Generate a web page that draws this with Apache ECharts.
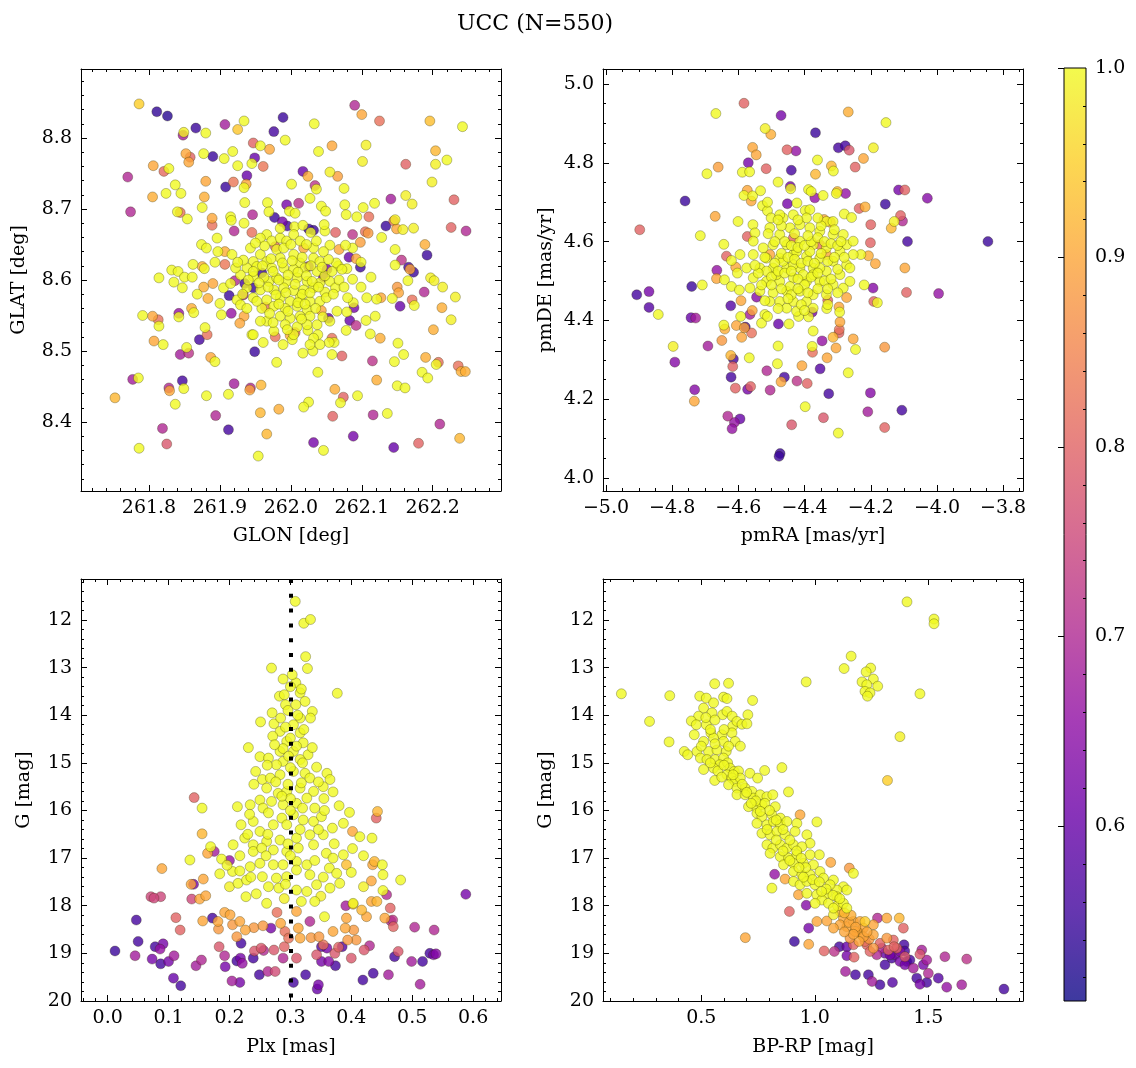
<!DOCTYPE html>
<html><head><meta charset="utf-8">
<script src="https://cdn.jsdelivr.net/npm/echarts@6/dist/echarts.min.js"></script>
<style>html,body{margin:0;padding:0;background:#fff}#c{width:1136px;height:1068px}</style>
</head><body><div id="c"></div>
<script>
const FONT = 'DejaVu Serif';
const titleText = 'UCC (N=550)';
// major tick label values
const glonTicks = [261.8, 261.9, 262.0, 262.1, 262.2];
const glatTicks = [8.4, 8.5, 8.6, 8.7, 8.8];
const pmraTicks = [-5.0, -4.8, -4.6, -4.4, -4.2, -4.0, -3.8];
const pmdeTicks = [4.0, 4.2, 4.4, 4.6, 4.8, 5.0];
const plxTicks = [0.0, 0.1, 0.2, 0.3, 0.4, 0.5, 0.6];
const gTicks = [12, 13, 14, 15, 16, 17, 18, 19, 20];
const bprpTicks = [0.5, 1.0, 1.5];
const probTicks = [0.6, 0.7, 0.8, 0.9, 1.0];
const plxMedian = 0.301;
const probMin = 0.5077, probMax = 1.0;

// [GLON, GLAT, prob]
const posData = [[261.786,8.848,.95],[261.811,8.837,.54],[261.826,8.831,.53],[262.090,8.846,.70],[262.100,8.833,.90],[262.125,8.824,.82],[262.196,8.824,.93],[262.242,8.816,1],[261.989,8.829,.55],[262.033,8.820,1],[261.934,8.824,1],[261.907,8.819,.68],[261.866,8.814,.55],[261.880,8.807,1],[261.925,8.812,.94],[261.848,8.804,.68],[261.849,8.808,.99],[261.976,8.809,.56],[261.992,8.797,1],[261.947,8.793,.80],[261.957,8.789,1],[261.970,8.784,.90],[261.918,8.781,1],[261.890,8.774,.55],[261.877,8.778,1],[261.852,8.778,.90],[261.858,8.773,.80],[261.856,8.766,.90],[261.906,8.771,1],[261.949,8.772,.60],[261.945,8.764,1],[261.925,8.761,1],[261.961,8.760,.83],[262.039,8.781,1],[262.058,8.789,.90],[262.106,8.790,.99],[262.101,8.767,.99],[262.162,8.763,.80],[262.204,8.782,.92],[262.220,8.769,1],[262.204,8.763,.99],[262.199,8.738,.99],[261.806,8.761,.90],[261.821,8.753,.81],[261.828,8.757,1],[261.770,8.745,.70],[262.017,8.753,.60],[262.024,8.746,.91],[262.055,8.752,.99],[262.066,8.746,.89],[261.938,8.747,.60],[261.919,8.738,.83],[261.908,8.731,.55],[261.937,8.735,.90],[261.934,8.730,1],[261.880,8.739,.90],[261.837,8.734,1],[261.845,8.722,1],[261.824,8.722,1],[261.805,8.717,.91],[261.878,8.717,.91],[261.875,8.702,1],[262.001,8.735,1],[262.034,8.733,.72],[262.036,8.728,1],[262.075,8.729,1],[262.027,8.715,1],[261.967,8.709,1],[261.935,8.709,1],[261.994,8.706,.62],[262.011,8.708,.72],[262.141,8.714,.68],[262.162,8.719,.99],[262.171,8.707,.99],[262.118,8.708,1],[262.102,8.702,1],[262.076,8.706,1],[262.043,8.704,1],[262.230,8.713,.80],[261.774,8.696,.70],[261.844,8.695,.82],[261.840,8.696,1],[261.854,8.686,1],[261.889,8.687,.90],[261.889,8.677,.82],[261.915,8.689,1],[261.916,8.684,1],[261.946,8.692,.70],[261.934,8.680,1],[261.969,8.696,1],[261.977,8.688,.55],[261.998,8.697,1],[262.006,8.694,1],[262.049,8.697,1],[262.078,8.692,1],[262.093,8.689,1],[262.110,8.689,.82],[262.147,8.685,.99],[262.134,8.676,.55],[262.145,8.683,.82],[262.149,8.672,.90],[262.158,8.671,.99],[262.173,8.673,.99],[262.226,8.674,.80],[262.247,8.669,.70],[261.988,8.682,.62],[261.995,8.676,.56],[262.005,8.675,1],[262.017,8.677,1],[262.032,8.670,.55],[262.028,8.667,1],[262.048,8.669,1],[262.047,8.678,1],[262.063,8.667,.80],[262.087,8.664,.72],[262.105,8.668,.82],[262.109,8.666,.88],[262.128,8.660,1],[262.098,8.653,.89],[262.087,8.645,1],[262.077,8.649,1],[262.068,8.643,.90],[262.055,8.649,1],[261.920,8.669,.70],[261.945,8.667,.82],[261.896,8.659,1],[261.874,8.650,1],[261.881,8.645,1],[262.189,8.650,.91],[262.192,8.635,.55],[262.147,8.643,1],[262.156,8.628,.72],[262.166,8.618,.56],[262.168,8.615,.90],[262.173,8.611,.55],[262.147,8.621,1],[262.082,8.632,.60],[262.092,8.630,.90],[262.098,8.618,.55],[262.099,8.625,1],[262.079,8.616,1],[262.067,8.620,1],[262.051,8.615,.62],[262.064,8.624,1],[262.087,8.601,1],[262.113,8.604,1],[262.099,8.590,1],[262.165,8.599,1],[262.197,8.603,.99],[262.202,8.599,.99],[262.214,8.590,.99],[262.188,8.583,.70],[262.150,8.590,.88],[262.152,8.582,.90],[262.143,8.574,1],[262.127,8.575,.90],[262.121,8.573,1],[262.107,8.575,1],[262.171,8.572,.82],[262.174,8.564,1],[262.154,8.563,.60],[262.232,8.576,.99],[262.213,8.561,.91],[262.226,8.544,.99],[262.201,8.530,.91],[261.814,8.603,1],[261.832,8.614,1],[261.841,8.612,1],[261.850,8.604,1],[261.861,8.604,1],[261.862,8.622,1],[261.875,8.619,.91],[261.878,8.616,1],[261.897,8.640,1],[261.907,8.640,.91],[261.893,8.625,1],[261.907,8.622,.83],[261.835,8.597,1],[261.847,8.589,1],[261.868,8.580,1],[261.877,8.590,.91],[261.883,8.574,.91],[261.890,8.595,.90],[261.905,8.589,1],[261.900,8.567,1],[261.913,8.578,.55],[261.921,8.599,.70],[261.933,8.579,.70],[261.935,8.595,.56],[261.924,8.572,1],[261.916,8.553,.66],[261.934,8.549,.90],[261.928,8.539,.90],[261.902,8.551,1],[261.791,8.550,1],[261.805,8.549,.90],[261.813,8.544,.82],[261.814,8.535,1],[261.842,8.553,.66],[261.842,8.548,1],[261.860,8.560,.91],[261.863,8.554,1],[261.879,8.533,1],[261.882,8.523,.82],[261.871,8.516,.56],[261.807,8.514,.90],[261.820,8.509,1],[261.844,8.495,.68],[261.856,8.497,.72],[261.853,8.505,1],[261.887,8.491,.90],[261.893,8.485,1],[261.777,8.460,.68],[261.785,8.462,1],[261.828,8.448,.70],[261.829,8.444,.90],[261.847,8.458,.56],[261.849,8.447,1],[261.920,8.454,.68],[261.943,8.448,.70],[261.942,8.445,.90],[261.958,8.452,.92],[261.881,8.437,1],[261.912,8.439,1],[261.837,8.425,1],[261.752,8.434,.92],[261.819,8.391,.70],[261.825,8.369,.78],[261.786,8.363,1],[261.894,8.409,.70],[261.912,8.389,.56],[261.957,8.413,.92],[261.966,8.383,.92],[261.954,8.352,1],[261.980,8.484,1],[261.949,8.499,.55],[261.945,8.523,1],[261.961,8.512,1],[261.978,8.520,.82],[261.989,8.509,1],[261.999,8.522,.91],[262.006,8.526,.82],[262.002,8.516,1],[262.017,8.497,1],[262.031,8.500,1],[262.038,8.470,1],[262.038,8.523,1],[262.024,8.529,1],[262.053,8.546,.60],[262.055,8.542,1],[262.058,8.518,.82],[262.061,8.512,1],[262.054,8.512,1],[262.065,8.556,1],[262.083,8.543,.60],[262.078,8.529,1],[262.092,8.536,.72],[262.079,8.555,1],[262.089,8.561,.62],[262.088,8.568,1],[262.106,8.543,1],[262.112,8.524,1],[262.119,8.549,1],[262.126,8.518,.91],[262.151,8.511,1],[262.159,8.495,1],[262.146,8.485,1],[262.115,8.486,.72],[262.121,8.459,.91],[262.190,8.491,.91],[262.208,8.484,.82],[262.205,8.481,1],[262.185,8.470,1],[262.193,8.462,1],[262.236,8.479,.82],[262.240,8.471,.91],[262.246,8.471,.91],[262.058,8.495,1],[262.072,8.493,.80],[262.062,8.446,.91],[262.074,8.435,.80],[262.070,8.427,1],[262.094,8.437,1],[262.150,8.451,1],[262.161,8.448,1],[262.025,8.428,1],[262.018,8.421,1],[261.983,8.418,.91],[262.059,8.408,.80],[262.116,8.410,.70],[262.136,8.412,1],[262.032,8.371,.62],[262.046,8.360,1],[262.088,8.380,.62],[262.145,8.364,.60],[262.180,8.370,.80],[262.210,8.397,.70],[262.238,8.377,.92],
[261.966,8.664,1],[261.973,8.655,1],[261.985,8.659,1],[261.994,8.655,1],[261.980,8.643,1],[261.957,8.636,1],[261.947,8.626,1],[261.966,8.626,1],[261.985,8.631,1],[262.004,8.636,1],[262.013,8.624,1],[262.032,8.631,1],[262.041,8.626,1],[262.053,8.629,1],[261.938,8.617,1],[261.952,8.619,1],[261.973,8.617,1],[261.990,8.617,1],[262.004,8.615,1],[262.020,8.617,1],[262.037,8.612,1],[261.929,8.607,1],[261.947,8.605,1],[261.969,8.598,1],[261.980,8.603,1],[261.994,8.598,1],[262.009,8.603,1],[262.023,8.598,1],[262.041,8.596,1],[262.055,8.598,1],[261.938,8.589,1],[261.957,8.586,1],[261.976,8.586,1],[261.990,8.589,1],[262.004,8.585,1],[262.018,8.586,1],[262.032,8.589,1],[262.048,8.583,1],[262.063,8.589,1],[261.947,8.575,1],[261.966,8.572,1],[261.985,8.575,1],[261.999,8.570,1],[262.013,8.575,1],[262.027,8.570,1],[262.041,8.570,1],[261.959,8.560,1],[261.976,8.563,1],[261.992,8.560,1],[262.009,8.563,1],[262.023,8.558,1],[261.985,8.549,1],[261.999,8.546,1],[262.013,8.549,1],[262.027,8.549,1],[261.992,8.537,1],[262.009,8.534,1],[262.023,8.537,1],[261.966,8.542,1],[262.037,8.537,1],[261.976,8.528,1],[262.004,8.523,1],[262.032,8.518,1],[261.922,8.617,1],[261.933,8.628,1],[261.917,8.636,1],[261.943,8.645,1],[261.957,8.659,1],[261.985,8.673,1],[262.004,8.664,1],[262.013,8.655,1],[262.032,8.645,1],[262.046,8.640,1],[261.929,8.565,1],[261.938,8.560,1],[261.957,8.542,1],[261.947,8.523,1],[262.027,8.509,1],[262.041,8.509,1],
[261.975,8.612,1],[261.983,8.600,1],[261.996,8.607,1],[262.010,8.611,1],[262.022,8.606,1],[262.030,8.598,1],[261.968,8.590,1],[261.979,8.579,1],[261.993,8.582,1],[262.006,8.594,1],[262.016,8.580,1],[262.027,8.582,1],[262.039,8.590,1],[262.048,8.606,1],[261.962,8.604,1],[261.955,8.596,1],[261.947,8.612,1],[261.960,8.620,1],[261.972,8.630,1],[261.988,8.624,1],[262.002,8.627,1],[262.016,8.632,1],[262.028,8.620,1],[262.044,8.618,1],[262.058,8.612,1],[261.983,8.566,1],[261.996,8.556,1],[262.010,8.568,1],[262.020,8.566,1],[262.035,8.560,1],[261.970,8.553,1],[261.952,8.570,1],[261.940,8.600,1],[261.932,8.580,1],[262.050,8.575,1],[262.060,8.580,1],[262.068,8.600,1],[262.072,8.615,1],[261.990,8.645,1],[262.000,8.650,1],[262.022,8.650,1],[262.036,8.655,1],[261.963,8.648,1],[261.950,8.652,1],[261.995,8.530,1],[262.015,8.545,1],[261.975,8.540,1],[262.045,8.548,1],[261.925,8.625,1],[261.915,8.595,1],[262.080,8.575,1],[262.075,8.590,1],
[261.959,8.610,.55],[261.947,8.589,.55],[261.964,8.562,.82],[262.025,8.619,.62],[262.046,8.604,.62],[262.043,8.557,.90],[262.025,8.672,.55],[261.978,8.647,.82],[262.018,8.645,.90]];

// [pmRA, pmDE, prob]
const pmData = [[-4.583,4.951,.80],[-4.668,4.925,1],[-4.471,4.920,.62],[-4.268,4.929,.91],[-4.154,4.902,1],[-4.367,4.876,.55],[-4.519,4.887,.99],[-4.502,4.872,.91],[-4.557,4.839,.90],[-4.546,4.820,.90],[-4.453,4.833,.80],[-4.426,4.830,.66],[-4.298,4.838,.56],[-4.277,4.843,.56],[-4.265,4.832,.78],[-4.192,4.838,.99],[-4.222,4.811,.90],[-4.361,4.807,1],[-4.570,4.800,.62],[-4.661,4.789,.89],[-4.516,4.785,.80],[-4.440,4.781,.56],[-4.319,4.792,.92],[-4.313,4.779,1],[-4.247,4.789,.80],[-4.695,4.772,1],[-4.588,4.776,1],[-4.566,4.777,1],[-4.480,4.751,1],[-4.367,4.771,.92],[-4.443,4.740,.62],[-4.442,4.734,1],[-4.344,4.717,1],[-4.301,4.727,.92],[-4.304,4.722,1],[-4.276,4.722,.66],[-4.388,4.732,1],[-4.380,4.727,1],[-4.573,4.730,.90],[-4.583,4.717,1],[-4.557,4.716,1],[-4.561,4.703,.90],[-4.533,4.729,1],[-4.369,4.711,.66],[-4.761,4.703,.55],[-4.156,4.695,.55],[-4.116,4.731,.62],[-4.097,4.731,.80],[-4.029,4.710,.64],[-4.235,4.684,.80],[-4.217,4.688,.91],[-4.670,4.664,.90],[-4.601,4.651,1],[-4.452,4.696,.62],[-4.527,4.691,1],[-4.512,4.678,1],[-4.501,4.660,1],[-4.512,4.700,1],[-4.423,4.698,1],[-4.434,4.668,1],[-4.398,4.679,1],[-4.384,4.681,1],[-4.280,4.670,1],[-4.258,4.661,1],[-4.341,4.656,.90],[-4.322,4.649,.90],[-4.110,4.666,.80],[-4.104,4.652,.70],[-4.129,4.651,.99],[-4.138,4.634,.92],[-4.898,4.630,.80],[-4.715,4.615,1],[-4.573,4.613,.80],[-4.556,4.643,1],[-4.550,4.622,1],[-4.089,4.600,.56],[-3.846,4.600,.55],[-4.644,4.593,1],[-4.200,4.643,.80],[-4.201,4.597,.80],[-4.230,4.567,1],[-4.207,4.564,.91],[-4.186,4.544,.90],[-4.097,4.533,.90],[-4.092,4.471,.80],[-3.995,4.468,.66],[-4.193,4.482,.64],[-4.191,4.448,.80],[-4.180,4.445,1],[-4.220,4.490,1],[-4.636,4.563,.80],[-4.621,4.552,1],[-4.608,4.535,.90],[-4.603,4.520,1],[-4.665,4.527,.66],[-4.666,4.506,.90],[-4.642,4.503,1],[-4.621,4.486,1],[-4.597,4.477,1],[-4.709,4.490,1],[-4.741,4.486,.55],[-4.907,4.465,.56],[-4.870,4.473,.62],[-4.870,4.433,.58],[-4.842,4.415,1],[-4.623,4.437,.58],[-4.592,4.450,.90],[-4.565,4.415,.68],[-4.593,4.410,1],[-4.545,4.459,.64],[-4.558,4.425,.90],[-4.520,4.415,1],[-4.530,4.393,1],[-4.512,4.410,1],[-4.743,4.407,.60],[-4.729,4.406,.68],[-4.644,4.388,1],[-4.641,4.378,.91],[-4.606,4.387,.90],[-4.582,4.381,.90],[-4.579,4.383,.56],[-4.560,4.368,.82],[-4.590,4.357,.90],[-4.650,4.349,.88],[-4.479,4.391,.60],[-4.447,4.391,1],[-4.418,4.410,1],[-4.388,4.409,1],[-4.374,4.373,1],[-4.377,4.421,.62],[-4.330,4.451,.80],[-4.333,4.430,1],[-4.296,4.434,.90],[-4.294,4.421,1],[-4.293,4.396,.90],[-4.295,4.377,.82],[-4.296,4.368,.80],[-4.273,4.458,.90],[-4.314,4.357,.92],[-4.253,4.353,.90],[-4.347,4.348,.66],[-4.377,4.334,1],[-4.376,4.319,.82],[-4.305,4.330,.90],[-4.332,4.305,.90],[-4.246,4.326,1],[-4.158,4.332,.88],[-4.480,4.335,1],[-4.797,4.334,.99],[-4.692,4.335,.68],[-4.792,4.294,.64],[-4.623,4.311,.92],[-4.615,4.302,.56],[-4.567,4.305,1],[-4.617,4.283,.80],[-4.622,4.256,.56],[-4.482,4.290,1],[-4.408,4.285,.90],[-4.353,4.277,.58],[-4.268,4.267,1],[-4.514,4.272,.70],[-4.461,4.256,.56],[-4.471,4.244,.90],[-4.423,4.246,.72],[-4.392,4.240,.80],[-4.609,4.228,.80],[-4.572,4.225,.62],[-4.563,4.232,.80],[-4.504,4.223,.70],[-4.327,4.214,.56],[-4.201,4.216,.64],[-4.732,4.224,.64],[-4.733,4.195,.90],[-4.398,4.181,1],[-4.632,4.157,.70],[-4.595,4.150,.60],[-4.612,4.141,.66],[-4.619,4.125,.66],[-4.343,4.153,.78],[-4.209,4.168,.68],[-4.106,4.172,.56],[-4.439,4.135,.78],[-4.298,4.114,1],[-4.158,4.128,.80],[-4.474,4.062,.55],[-4.477,4.055,.55],
[-4.475,4.618,1],[-4.444,4.635,1],[-4.414,4.643,1],[-4.384,4.635,1],[-4.354,4.626,1],[-4.314,4.618,1],[-4.283,4.618,1],[-4.273,4.592,1],[-4.293,4.575,1],[-4.334,4.584,1],[-4.374,4.592,1],[-4.414,4.601,1],[-4.454,4.592,1],[-4.495,4.592,1],[-4.525,4.584,1],[-4.555,4.567,1],[-4.515,4.558,1],[-4.475,4.558,1],[-4.434,4.567,1],[-4.394,4.563,1],[-4.354,4.558,1],[-4.314,4.550,1],[-4.273,4.541,1],[-4.535,4.533,1],[-4.495,4.533,1],[-4.454,4.533,1],[-4.414,4.533,1],[-4.374,4.533,1],[-4.334,4.525,1],[-4.293,4.516,1],[-4.555,4.508,1],[-4.515,4.499,1],[-4.475,4.499,1],[-4.434,4.508,1],[-4.394,4.499,1],[-4.354,4.499,1],[-4.314,4.491,1],[-4.535,4.474,1],[-4.495,4.470,1],[-4.454,4.474,1],[-4.414,4.474,1],[-4.374,4.465,1],[-4.334,4.465,1],[-4.475,4.448,1],[-4.434,4.448,1],[-4.394,4.448,1],[-4.454,4.431,1],[-4.424,4.423,1],[-4.505,4.448,1],[-4.565,4.482,1],[-4.283,4.482,1],[-4.263,4.499,1],[-4.253,4.567,1],[-4.334,4.651,1],[-4.465,4.660,1],[-4.505,4.635,1],[-4.555,4.601,1],[-4.595,4.567,1],[-4.575,4.533,1],[-4.374,4.431,1],[-4.475,4.668,1],[-4.394,4.660,1],[-4.314,4.651,1],[-4.253,4.601,1],[-4.263,4.533,1],[-4.424,4.575,1],[-4.384,4.575,1],[-4.465,4.550,1],[-4.444,4.486,1],[-4.485,4.516,1],[-4.374,4.516,1],[-4.404,4.516,1],[-4.434,4.541,1],[-4.515,4.525,1],[-4.354,4.533,1],
[-4.460,4.600,1],[-4.440,4.590,1],[-4.420,4.585,1],[-4.400,4.590,1],[-4.380,4.600,1],[-4.360,4.610,1],[-4.340,4.600,1],[-4.320,4.595,1],[-4.300,4.590,1],[-4.470,4.570,1],[-4.450,4.560,1],[-4.430,4.555,1],[-4.410,4.545,1],[-4.390,4.550,1],[-4.370,4.545,1],[-4.350,4.570,1],[-4.330,4.550,1],[-4.310,4.560,1],[-4.490,4.545,1],[-4.500,4.510,1],[-4.480,4.525,1],[-4.460,4.520,1],[-4.440,4.525,1],[-4.420,4.505,1],[-4.400,4.490,1],[-4.380,4.510,1],[-4.360,4.520,1],[-4.340,4.500,1],[-4.320,4.505,1],[-4.300,4.530,1],[-4.520,4.560,1],[-4.540,4.520,1],[-4.500,4.490,1],[-4.470,4.480,1],[-4.440,4.465,1],[-4.420,4.480,1],[-4.390,4.470,1],[-4.360,4.480,1],[-4.330,4.480,1],[-4.490,4.600,1],[-4.510,4.620,1],[-4.470,4.640,1],[-4.430,4.620,1],[-4.390,4.615,1],[-4.350,4.640,1],[-4.310,4.630,1],[-4.290,4.600,1],[-4.280,4.560,1],[-4.300,4.470,1],[-4.450,4.455,1],[-4.410,4.440,1],[-4.530,4.490,1],[-4.550,4.540,1],[-4.420,4.655,1],[-4.360,4.660,1],[-4.480,4.655,1],[-4.330,4.440,1],[-4.400,4.425,1],[-4.480,4.430,1],[-4.520,4.450,1],
[-4.434,4.609,.80],[-4.334,4.567,.90],[-4.505,4.567,.90],[-4.354,4.592,.82]];

// [Plx, G, prob]
const plxData = [[0.308,11.61,1],[0.322,12.07,1],[0.333,11.99,1],[0.325,12.77,1],[0.328,13.02,1],[0.269,13.01,1],[0.377,13.54,1],[0.288,13.24,1],[0.309,13.32,1],[0.303,13.15,1],[0.282,13.60,1],[0.290,13.57,1],[0.316,13.53,1],[0.324,13.71,1],[0.309,13.78,1],[0.292,13.78,1],[0.336,13.92,1],[0.333,14.06,1],[0.270,13.95,1],[0.251,14.14,1],[0.273,14.18,1],[0.284,14.06,1],[0.316,14.06,1],[0.305,14.20,1],[0.283,14.34,1],[0.271,14.44,1],[0.316,14.37,1],[0.321,14.58,1],[0.294,14.55,1],[0.231,14.68,1],[0.250,14.87,1],[0.264,14.90,1],[0.283,14.76,1],[0.305,14.76,1],[0.329,14.83,1],[0.316,14.93,1],[0.288,14.97,1],[0.277,15.04,1],[0.343,15.09,1],[0.360,15.22,1],[0.365,15.35,1],[0.354,15.50,1],[0.370,15.61,1],[0.243,15.18,1],[0.254,15.35,1],[0.267,15.32,1],[0.283,15.25,1],[0.305,15.18,1],[0.324,15.22,1],[0.332,15.32,1],[0.261,15.53,1],[0.280,15.64,1],[0.294,15.60,1],[0.316,15.53,1],[0.338,15.60,1],[0.250,15.78,1],[0.234,15.88,1],[0.255,15.95,1],[0.269,15.81,1],[0.288,15.88,1],[0.310,15.85,1],[0.327,15.74,1],[0.340,15.95,1],[0.213,15.92,1],[0.239,16.23,1],[0.219,16.30,1],[0.250,16.44,1],[0.272,16.30,1],[0.286,16.16,1],[0.305,16.09,1],[0.321,16.20,1],[0.338,16.23,1],[0.351,16.13,1],[0.397,16.04,1],[0.369,16.37,1],[0.387,16.27,1],[0.414,16.55,1],[0.434,16.58,1],[0.225,16.58,1],[0.206,16.72,1],[0.239,16.72,1],[0.261,16.65,1],[0.283,16.62,1],[0.310,16.58,1],[0.332,16.51,1],[0.354,16.51,1],[0.217,16.95,1],[0.239,16.86,1],[0.253,16.79,1],[0.272,16.83,1],[0.294,16.86,1],[0.313,16.79,1],[0.338,16.72,1],[0.359,16.90,1],[0.387,16.93,1],[0.370,17.00,1],[0.187,17.02,1],[0.205,17.28,1],[0.217,17.27,1],[0.234,17.18,1],[0.250,17.11,1],[0.272,17.14,1],[0.288,17.14,1],[0.310,17.07,1],[0.327,17.14,1],[0.364,17.21,1],[0.376,17.32,1],[0.392,17.14,.93],[0.438,17.07,.92],[0.451,17.14,1],[0.452,17.35,1],[0.481,17.46,1],[0.184,17.33,1],[0.214,17.53,1],[0.228,17.46,1],[0.254,17.39,1],[0.277,17.42,1],[0.294,17.39,1],[0.332,17.35,1],[0.343,17.56,1],[0.365,17.63,1],[0.381,17.53,1],[0.264,17.60,1],[0.281,17.63,1],[0.310,17.67,1],[0.327,17.70,1],[0.135,17.04,1],[0.155,15.95,1],[0.169,16.76,1],[0.227,17.81,1],[0.261,17.95,1],[0.318,17.91,1],[0.340,17.91,1],[0.452,17.68,1],[0.356,18.23,1],[0.403,17.95,1],[0.417,18.09,.92],
[0.300,13.40,1],[0.318,13.45,1],[0.296,13.90,1],[0.312,14.00,1],[0.322,14.30,1],[0.292,14.25,1],[0.300,14.48,1],[0.310,14.65,1],[0.288,14.70,1],[0.274,14.62,1],[0.336,14.68,1],[0.297,14.86,1],[0.320,15.00,1],[0.300,15.10,1],[0.262,15.05,1],[0.346,15.40,1],[0.318,15.42,1],[0.296,15.45,1],[0.276,15.40,1],[0.240,15.45,1],[0.355,15.75,1],[0.300,15.75,1],[0.286,15.70,1],[0.320,15.95,1],[0.300,16.00,1],[0.264,16.05,1],[0.233,16.08,1],[0.356,16.00,1],[0.380,15.90,1],[0.294,16.30,1],[0.316,16.40,1],[0.263,16.50,1],[0.346,16.40,1],[0.372,16.70,1],[0.402,16.80,1],[0.296,16.70,1],[0.230,16.50,1],[0.260,16.95,1],[0.300,16.95,1],[0.340,17.05,1],[0.196,17.15,1],[0.420,16.95,1],[0.400,17.30,1],[0.235,17.40,1],[0.310,17.25,1],[0.354,17.40,1],[0.292,17.55,1],[0.244,17.75,1],[0.350,17.80,.99],[0.420,17.60,.99],[0.200,17.60,.99],[0.290,17.85,.99],
[0.142,15.73,.80],[0.155,16.49,.92],[0.089,17.22,.90],[0.164,16.90,.90],[0.175,16.86,.68],[0.137,17.55,.90],[0.157,17.44,.90],[0.141,17.55,.62],[0.138,17.86,.75],[0.151,17.86,.90],[0.161,17.79,.90],[0.071,17.81,.75],[0.087,17.81,.75],[0.076,17.84,.75],[0.200,17.05,.66],[0.112,18.25,.80],[0.119,18.51,.80],[0.047,18.30,.56],[0.172,18.26,.56],[0.156,18.32,.90],[0.181,18.33,.90],[0.182,18.49,.88],[0.192,18.14,.90],[0.201,18.19,.90],[0.205,18.40,.88],[0.217,18.33,.90],[0.212,18.65,.88],[0.226,18.51,.90],[0.240,18.46,.88],[0.255,18.42,.88],[0.268,18.47,.62],[0.278,18.14,.82],[0.284,18.37,.90],[0.291,18.54,.82],[0.297,18.68,.82],[0.310,18.12,.90],[0.313,18.47,.90],[0.316,18.68,.90],[0.332,18.33,.70],[0.334,18.67,.88],[0.347,18.65,.88],[0.354,18.82,.82],[0.370,18.54,.90],[0.390,18.47,.90],[0.404,18.51,.88],[0.408,18.72,.88],[0.394,18.72,.88],[0.392,18.26,.90],[0.403,17.97,.92],[0.425,18.23,.90],[0.433,17.91,.90],[0.442,17.91,.92],[0.458,17.77,.70],[0.464,18.05,.80],[0.455,18.26,.90],[0.468,18.30,.72],[0.469,18.44,.80],[0.391,18.00,.68],[0.588,17.76,.62],[0.433,17.48,.90],[0.441,16.16,.80],[0.443,16.02,.92],[0.435,17.14,.90],[0.402,16.44,.90],
[0.012,18.95,.55],[0.050,18.75,.56],[0.045,19.05,.68],[0.078,18.86,.56],[0.086,18.91,.66],[0.091,18.80,.62],[0.073,19.12,.62],[0.087,19.22,.56],[0.100,19.17,.62],[0.109,19.05,.68],[0.108,19.52,.60],[0.120,19.68,.56],[0.145,19.26,.68],[0.154,19.14,.70],[0.183,18.86,.78],[0.192,19.05,.70],[0.193,19.28,.62],[0.212,19.16,.56],[0.218,19.10,.62],[0.221,19.21,.66],[0.219,18.79,.56],[0.239,19.10,.56],[0.241,18.95,.78],[0.252,18.89,.78],[0.256,18.94,.70],[0.204,19.58,.68],[0.217,19.61,.62],[0.249,19.45,.56],[0.263,19.38,.70],[0.275,19.38,.76],[0.273,18.93,.78],[0.288,19.10,.70],[0.290,18.86,.80],[0.305,19.61,.56],[0.310,19.10,.78],[0.325,19.45,.56],[0.346,19.66,.62],[0.344,19.75,.60],[0.343,19.03,.78],[0.351,19.17,.62],[0.360,18.89,.62],[0.363,19.17,.64],[0.374,19.26,.56],[0.373,19.00,.78],[0.379,18.87,.80],[0.385,18.86,.58],[0.351,18.86,.58],[0.400,19.10,.78],[0.419,19.56,.56],[0.421,18.93,.78],[0.430,18.84,.70],[0.436,19.42,.56],[0.461,19.45,.68],[0.471,19.07,.56],[0.477,18.96,.78],[0.499,19.17,.68],[0.504,18.45,.70],[0.513,19.65,.68],[0.517,19.17,.56],[0.529,19.00,.56],[0.535,19.03,.62],[0.539,19.01,.64],[0.536,18.51,.70],[0.465,18.32,.70]];

// [BP-RP, G, prob]
const cmdData = [[1.406,11.62,1],[1.525,11.98,1],[1.525,12.08,1],[1.160,12.76,1],[1.129,13.02,1],[1.246,13.01,1],[1.226,13.09,1],[1.258,13.24,1],[1.208,13.30,1],[1.229,13.36,1],[1.277,13.39,1],[1.221,13.50,1],[1.243,13.53,1],[1.232,13.60,1],[0.962,13.30,1],[1.463,13.55,1],[1.375,14.45,.99],[1.320,15.37,.95],[0.148,13.55,1],[0.361,13.59,1],[0.272,14.13,1],[0.358,14.56,1],[0.425,14.76,1],[0.440,14.83,1],[0.559,13.34,1],[0.620,13.33,1],[0.493,13.60,1],[0.522,13.64,1],[0.598,13.62,1],[0.613,13.65,1],[0.726,13.69,1],[0.554,13.74,1],[0.510,13.85,1],[0.488,14.02,1],[0.547,13.95,1],[0.594,13.99,1],[0.613,13.92,1],[0.636,14.02,1],[0.705,13.99,1],[0.456,14.12,1],[0.478,14.20,1],[0.522,14.20,1],[0.638,14.23,1],[0.657,14.13,1],[0.679,14.19,1],[0.701,14.18,1],[0.469,14.41,1],[0.542,14.37,1],[0.591,14.41,1],[0.635,14.37,1],[0.510,14.55,1],[0.554,14.48,1],[0.598,14.55,1],[0.649,14.55,1],[0.672,14.65,1],[0.481,14.76,1],[0.532,14.76,1],[0.569,14.73,1],[0.610,14.76,1],[0.496,14.90,1],[0.525,14.93,1],[0.561,14.93,1],[0.598,14.90,1],[0.581,15.04,1],[0.616,15.00,1],[0.510,15.14,1],[0.554,15.11,1],[0.573,15.17,1],[0.626,15.11,1],[0.645,15.18,1],[0.664,15.17,1],[0.714,15.22,1],[0.779,15.16,1],[0.748,15.32,1],[0.855,15.10,1],[0.559,15.37,1],[0.613,15.25,1],[0.635,15.32,1],[0.649,15.39,1],[0.672,15.32,1],[0.620,15.46,1],[0.657,15.53,1],[0.693,15.53,1],[0.723,15.60,1],[0.657,15.67,1],[0.693,15.67,1],[0.730,15.74,1],[0.759,15.67,1],[0.789,15.71,1],[0.815,15.67,1],[0.884,15.61,1],[0.708,15.92,1],[0.745,15.95,1],[0.767,15.88,1],[0.826,15.92,1],[0.745,16.06,1],[0.767,16.13,1],[0.811,16.09,1],[0.848,16.16,1],[0.745,16.27,1],[0.789,16.30,1],[0.818,16.23,1],[0.848,16.30,1],[0.877,16.23,1],[0.921,16.27,1],[1.009,16.24,1],[0.935,16.09,.90],[0.767,16.48,1],[0.803,16.51,1],[0.833,16.44,1],[0.869,16.51,1],[0.913,16.44,1],[0.965,16.51,1],[0.979,16.69,1],[0.789,16.72,1],[0.815,16.79,1],[0.848,16.72,1],[0.877,16.79,1],[0.906,16.72,1],[0.943,16.76,1],[1.020,16.93,1],[0.803,16.90,1],[0.848,16.97,1],[0.884,17.00,1],[0.921,16.93,1],[0.979,16.93,1],[0.862,17.14,1],[0.906,17.11,1],[0.950,17.11,1],[0.994,17.14,1],[0.906,17.28,1],[0.943,17.35,1],[0.979,17.35,1],[1.023,17.28,1],[1.038,17.42,1],[1.082,17.46,1],[1.126,17.60,1],[1.141,17.67,1],[0.811,17.63,1],[0.906,17.49,1],[0.935,17.56,1],[0.965,17.49,1],[1.001,17.56,1],[1.097,17.67,1],[1.067,17.56,1],[0.928,17.77,.90],[0.965,17.74,1],[1.009,17.77,1],[1.053,17.74,1],[1.097,17.81,1],[1.031,17.88,1],[1.060,17.95,1],[1.082,18.05,1],[1.126,17.95,1],[1.001,17.95,1],[1.141,18.05,1],[1.170,17.32,1],[1.070,17.09,.90],[1.152,17.21,.88],[0.869,17.44,.90],[0.823,17.34,.66],[0.962,17.99,.64],[0.888,18.12,.80],[1.009,18.33,.90],[1.053,18.32,.90],[1.082,18.19,.99],[1.111,18.12,.92],[1.126,18.26,.90],[1.141,18.44,.90],[1.170,18.33,.90],[1.199,18.33,.90],[1.214,18.47,.90],[1.185,18.54,.90],[1.214,18.65,.90],[1.155,18.68,.88],[1.111,18.40,.90],[1.082,18.47,.90],[1.221,18.33,.95],[1.258,18.40,.90],[1.276,18.26,.70],[1.317,18.26,.90],[1.372,18.26,.92],[1.390,18.47,.80],[1.258,18.61,.90],[1.287,18.79,.80],[1.317,18.68,.88],[1.346,18.72,.80],[1.361,18.89,.80],[1.324,18.93,.80],[1.295,18.89,.70],[1.273,19.03,.70],[1.309,19.00,.60],[1.339,19.10,.56],[1.353,19.03,.62],[1.375,19.17,.62],[1.405,19.17,.56],[1.397,19.24,.62],[1.419,19.14,.56],[1.434,19.31,.68],[1.471,18.93,.68],[1.493,19.14,.68],[1.500,19.42,.70],[1.449,19.52,.56],[1.463,19.65,.62],[1.493,19.61,.56],[1.544,19.52,.58],[1.573,19.07,.70],[1.669,19.12,.72],[1.581,19.71,.66],[1.647,19.66,.68],[1.833,19.75,.56],[0.694,18.67,.90],[0.973,18.81,.90],[0.910,18.75,.55],[0.973,18.47,.62],[1.041,18.95,.80],[1.086,18.96,.72],[1.108,18.86,.56],[1.141,19.05,.62],[1.173,19.08,.80],[1.141,18.86,.60],[1.170,18.82,.80],[1.195,18.75,.90],[1.229,18.82,.80],[1.243,18.96,.80],[1.258,18.89,.88],[1.309,19.24,.56],[1.331,19.03,.62],[1.349,18.86,.80],[1.375,18.96,.64],[1.397,19.07,.78],[1.236,19.45,.56],[1.287,19.66,.56],[1.342,19.61,.58],[1.252,19.59,.68],[1.135,19.38,.68],[1.179,19.45,.56],[1.478,19.24,.62],[1.463,19.02,.78],[1.177,18.54,.90],[1.221,18.75,.82],[1.393,18.82,.56],[1.396,18.95,.56],
[0.520,14.05,1],[0.560,14.10,1],[0.600,14.30,1],[0.540,14.30,1],[0.500,14.65,1],[0.560,14.60,1],[0.620,14.65,1],[0.540,15.00,1],[0.600,15.05,1],[0.640,15.25,1],[0.590,15.30,1],[0.680,15.45,1],[0.700,15.62,1],[0.740,15.80,1],[0.720,15.85,1],[0.780,15.85,1],[0.800,16.00,1],[0.760,16.02,1],[0.830,16.20,1],[0.790,16.40,1],[0.860,16.40,1],[0.830,16.62,1],[0.890,16.62,1],[0.860,16.85,1],[0.920,16.85,1],[0.940,17.00,1],[0.890,17.05,1],[0.960,17.20,1],[0.930,17.20,1],[0.990,17.45,1],[1.020,17.50,1],[0.950,17.40,1],[1.050,17.65,1],[1.030,17.70,1],[1.080,17.78,1],[1.110,17.85,1],[1.100,18.00,.99],[1.130,18.15,.92],[1.160,18.20,.91],[1.150,18.35,.90],[1.180,18.45,.90],[1.200,18.58,.89],[1.230,18.55,.90],[1.240,18.70,.88],[1.170,18.60,.90],[1.130,18.55,.90]];

// matplotlib "plasma" colormap samples
const plasma = [[13,8,135],[65,4,157],[106,0,168],[143,13,164],[177,42,144],[204,71,120],[225,100,98],[242,132,75],[252,166,54],[252,206,37],[240,249,33]];
const hex = c => '#' + c.map(v => v.toString(16).padStart(2, '0')).join('');

function minorList(a, b, step, majors) {
  const out = [];
  const n = Math.round((b - a) / step);
  for (let i = 0; i <= n; i++) {
    const v = +(a + i * step).toFixed(4);
    if (!majors.some(m => Math.abs(m - v) < step / 10)) out.push(v);
  }
  return out;
}

const txt = {fontFamily: FONT, fontSize: 19, color: '#000'};
const fmt1 = v => v.toFixed(1).replace('-', '\u2212');
const fmt0 = v => String(Math.round(v));

function axisSet(dim, grid, min, max, major, minor, fmt, name, nameGap, inverse, margin) {
  const pos = dim === 'x' ? ['bottom', 'top'] : ['left', 'right'];
  const base = {gridIndex: grid, type: 'value', min, max, inverse: !!inverse, splitLine: {show: false}, minorTick: {show: false}, axisPointer: {show: false}};
  const lineOn = {show: true, onZero: false, lineStyle: {color: '#000', width: 1}};
  const lineOff = {show: false, onZero: false};
  const tk = (vals, len) => ({show: true, inside: true, length: len, customValues: vals, lineStyle: {color: '#000', width: 1}});
  return [
    Object.assign({}, base, {position: pos[0], axisLine: lineOn, axisTick: tk(major, 6),
      axisLabel: Object.assign({show: true, customValues: major, formatter: fmt, margin: margin}, txt),
      name: name, nameLocation: 'middle', nameGap: nameGap, nameTextStyle: txt}),
    Object.assign({}, base, {position: pos[0], axisLine: lineOff, axisTick: tk(minor, 3), axisLabel: {show: false}}),
    Object.assign({}, base, {position: pos[1], axisLine: lineOn, axisTick: tk(major, 6), axisLabel: {show: false}}),
    Object.assign({}, base, {position: pos[1], axisLine: lineOff, axisTick: tk(minor, 3), axisLabel: {show: false}})
  ];
}

const G = [
  {left: 81, top: 69, width: 420, height: 422},
  {left: 603, top: 69, width: 420, height: 422},
  {left: 81, top: 579, width: 420, height: 422},
  {left: 603, top: 579, width: 420, height: 422}
];
const cbGrid = {left: 1064, top: 68, width: 22, height: 933, show: true, borderColor: '#000', borderWidth: 1,
  backgroundColor: {type: 'linear', x: 0, y: 0, x2: 0, y2: 1,
    colorStops: plasma.map((c, i) => ({offset: 1 - i / (plasma.length - 1), color: 'rgba(' + c.join(',') + ',0.8)'}))}};

const xAxes = [].concat(
  axisSet('x', 0, 261.7041, 262.2963, glonTicks, minorList(261.72, 262.28, 0.02, glonTicks), fmt1, 'GLON [deg]', 36, false, 8),
  axisSet('x', 1, -5.009, -3.740, pmraTicks, minorList(-5.0, -3.75, 0.05, pmraTicks), fmt1, 'pmRA [mas/yr]', 36, false, 8),
  axisSet('x', 2, -0.0438, 0.6458, plxTicks, minorList(-0.04, 0.64, 0.02, plxTicks), fmt1, 'Plx [mas]', 37, false, 8),
  axisSet('x', 3, 0.067, 1.917, bprpTicks, minorList(0.1, 1.9, 0.1, bprpTicks), fmt1, 'BP-RP [mag]', 37, false, 8),
  [{gridIndex: 4, type: 'value', min: 0, max: 1, show: false}]
);
const yAxes = [].concat(
  axisSet('y', 0, 8.3028, 8.8972, glatTicks, minorList(8.32, 8.88, 0.02, glatTicks), fmt1, 'GLAT [deg]', 52, false, 9),
  axisSet('y', 1, 3.967, 5.038, pmdeTicks, minorList(3.95, 5.05, 0.05, pmdeTicks), fmt1, 'pmDE [mas/yr]', 47, false, 9),
  axisSet('y', 2, 11.14, 20.0, gTicks, minorList(11.2, 19.8, 0.2, gTicks), fmt0, 'G [mag]', 47, true, 9),
  axisSet('y', 3, 11.14, 20.0, gTicks, minorList(11.2, 19.8, 0.2, gTicks), fmt0, 'G [mag]', 47, true, 9),
  [
    {gridIndex: 4, type: 'value', min: probMin, max: probMax, position: 'right', splitLine: {show: false},
      axisLine: {show: false}, axisTick: {show: true, inside: true, length: 6, customValues: probTicks, lineStyle: {color: '#000'}},
      axisLabel: Object.assign({show: true, customValues: probTicks, formatter: fmt1, margin: 9}, txt)},
    {gridIndex: 4, type: 'value', min: probMin, max: probMax, position: 'right', splitLine: {show: false},
      axisLine: {show: false}, axisTick: {show: true, inside: true, length: 3, customValues: minorList(0.52, 0.98, 0.02, probTicks), lineStyle: {color: '#000'}},
      axisLabel: {show: false}}
  ]
);

const byProb = arr => arr.slice().sort((a, b) => a[2] - b[2]);
const pointStyle = {opacity: 0.8, borderColor: 'rgba(40,40,0,0.75)', borderWidth: 0.5};
function scatter(i, data, extra) {
  return Object.assign({type: 'scatter', xAxisIndex: 4 * i, yAxisIndex: 4 * i, data: byProb(data),
    symbol: 'circle', symbolSize: 10, itemStyle: pointStyle, emphasis: {disabled: true}, silent: true}, extra || {});
}

const chart = echarts.init(document.getElementById('c'), null, {renderer: 'canvas'});
chart.setOption({
  animation: false,
  backgroundColor: '#fff',
  title: {text: titleText, left: 530, top: 8, textAlign: 'center',
    textStyle: {fontFamily: FONT, fontSize: 22, fontWeight: 'normal', color: '#000'}},
  grid: G.concat([cbGrid]),
  xAxis: xAxes,
  yAxis: yAxes,
  visualMap: {show: false, type: 'continuous', min: probMin, max: probMax, dimension: 2,
    seriesIndex: [0, 1, 2, 3], inRange: {color: plasma.map(hex)}},
  series: [
    scatter(0, posData),
    scatter(1, pmData),
    scatter(2, plxData, {markLine: {silent: true, symbol: ['none', 'none'], label: {show: false},
      lineStyle: {color: '#000', width: 4, type: [4, 10.8], cap: 'butt', opacity: 1},
      emphasis: {disabled: true}, data: [{xAxis: plxMedian}]}}),
    scatter(3, cmdData)
  ]
});
</script>
</body></html>
